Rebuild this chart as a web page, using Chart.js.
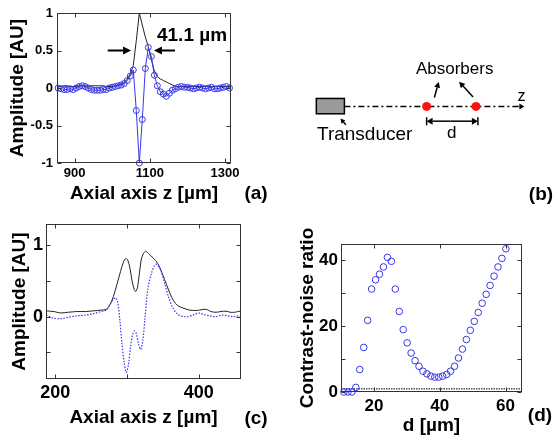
<!DOCTYPE html>
<html>
<head>
<meta charset="utf-8">
<script src="https://cdn.jsdelivr.net/npm/chart.js@4.4.1/dist/chart.umd.min.js"></script>
<style>
    html, body { margin: 0; padding: 0; background: #fff; }
    #fig { position: relative; width: 554px; height: 437px; overflow: hidden; }
    canvas { position: absolute; }
</style>
</head>
<body>
<div id="fig">
    <canvas id="chartA" width="277" height="218" style="left:0;top:0"></canvas>
    <canvas id="chartB" width="277" height="218" style="left:277px;top:0"></canvas>
    <canvas id="chartC" width="277" height="219" style="left:0;top:218px"></canvas>
    <canvas id="chartD" width="277" height="219" style="left:277px;top:218px"></canvas>
</div>
<script>
// (a) single absorber: signal (circles) and envelope (black)
const zA = [856, 864, 872, 880, 888, 896, 904, 912, 920, 928, 936, 944, 952, 960, 968,
    976, 984, 992, 1000, 1008, 1016, 1024, 1032, 1040, 1048, 1056, 1064, 1072, 1080,
    1088, 1096, 1104, 1112, 1120, 1128, 1136, 1144, 1152, 1160, 1168, 1176, 1184, 1192,
    1200, 1208, 1216, 1224, 1232, 1240, 1248, 1256, 1264, 1272, 1280, 1288, 1296, 1304, 1312];
const signalA = [0.0, -0.01, -0.02, -0.02, -0.01, -0.02, 0.0, 0.02, 0.03, 0.02, 0.0, -0.02,
    -0.03, -0.03, -0.03, -0.02, -0.02, 0.0, 0.01, 0.02, 0.03, 0.04, 0.06, 0.1, 0.16, 0.24,
    -0.30, -1.0, -0.42, 0.26, 0.54, 0.42, 0.17, 0.03, -0.05, -0.08, -0.11, -0.07, -0.03,
    -0.01, 0.01, 0.02, 0.01, 0.01, 0.0, -0.01, 0.0, 0.01, 0.0, -0.01, 0.0, 0.01, -0.01,
    -0.01, 0.0, 0.01, 0.02, 0.0];
const envelopeA = [0.02, 0.02, 0.03, 0.03, 0.02, 0.02, 0.02, 0.03, 0.03, 0.03, 0.02, 0.03,
    0.03, 0.03, 0.03, 0.03, 0.02, 0.02, 0.02, 0.03, 0.04, 0.05, 0.07, 0.12, 0.19, 0.3,
    0.63, 1.0, 0.84, 0.68, 0.55, 0.38, 0.23, 0.15, 0.12, 0.1, 0.08, 0.06, 0.04, 0.02,
    0.02, 0.02, 0.02, 0.02, 0.02, 0.02, 0.02, 0.02, 0.02, 0.02, 0.02, 0.02, 0.02, 0.02,
    0.02, 0.02, 0.02, 0.02];
const zTicksA = [900, 1100, 1300];
const ampTicksA = [-1, -0.5, 0, 0.5, 1];

// (c) two absorbers: envelope (black) and signal (blue dotted)
const zEnvC = [187, 198, 207, 218, 230, 242, 253, 264, 271, 276, 281, 286, 291, 295, 298.5,
    301, 304, 307, 310, 312, 314.5, 317, 320, 323, 326, 330, 335, 340, 345, 350, 355, 360,
    365, 371, 378, 387, 395, 401, 406, 411, 417, 424, 431, 438, 444, 450, 455, 459];
const envelopeC = [0.08, 0.07, 0.05, 0.06, 0.07, 0.07, 0.08, 0.09, 0.1, 0.16, 0.28, 0.45,
    0.63, 0.76, 0.81, 0.79, 0.68, 0.5, 0.38, 0.35, 0.4, 0.58, 0.8, 0.88, 0.91, 0.88, 0.83,
    0.78, 0.7, 0.58, 0.45, 0.32, 0.22, 0.15, 0.12, 0.09, 0.085, 0.09, 0.1, 0.1, 0.07, 0.06,
    0.07, 0.075, 0.06, 0.06, 0.07, 0.08];
const zSigC = [187, 197, 207, 218, 230, 242, 253, 264, 271, 277, 281, 284, 287, 290, 293,
    296, 299, 302, 305, 308, 310.5, 313, 316, 319, 322, 325, 329, 334, 340, 346, 352, 358,
    364, 371, 378, 385, 392, 400, 407, 415, 424, 432, 440, 448, 455, 459];
const signalC = [0.02, -0.02, -0.03, -0.01, 0.01, 0.02, 0.04, 0.07, 0.09, 0.18, 0.24, 0.26,
    0.2, -0.05, -0.38, -0.64, -0.78, -0.67, -0.42, -0.24, -0.2, -0.24, -0.38, -0.46, -0.34,
    -0.03, 0.38, 0.6, 0.73, 0.67, 0.48, 0.27, 0.12, 0.03, 0.0, 0.0, 0.02, 0.05, 0.03, 0.01,
    0.0, 0.02, 0.01, 0.0, 0.01, 0.0];
const zTicksC = [200, 300, 400];
const zLabelsC = [200, 400];
const ampTicksC = [-0.5, 0, 0.5, 1];
const ampLabelsC = [0, 1];

// (d) contrast-to-noise ratio against absorber spacing
const spacingD = [10.9, 12.1, 13.3, 14.5, 15.7, 16.9, 18.1, 19.3, 20.5, 21.7, 22.9, 24.1,
    25.3, 26.5, 27.7, 28.9, 30.1, 31.3, 32.5, 33.7, 34.9, 36.1, 37.3, 38.5, 39.7, 40.9,
    42.1, 43.3, 44.5, 45.7, 46.9, 48.1, 49.3, 50.5, 51.7, 52.9, 54.1, 55.3, 56.5, 57.7,
    58.9, 60.1];
const cnrD = [0, 0, 0, 1.4, 6.8, 13.5, 21.7, 31.2, 34, 35.7, 37.9, 40.8, 39.6, 31.2, 24.4,
    18.9, 14.9, 11.8, 9.5, 7.8, 6.3, 5.5, 4.8, 4.5, 4.5, 4.8, 5.3, 6.3, 7.8, 10.3, 13, 15.9,
    18.7, 21.4, 24.1, 26.9, 29.6, 32.3, 35.1, 37.9, 40.5, 43.4];
const cnrThreshold = 1;
const dTicksD = [20, 40, 60];
const cnrTicksD = [0, 10, 20, 30, 40];
const cnrLabelsD = [0, 20, 40];

// (b) schematic: absorber positions along the axis
const absorberZ = [150, 201];

const FONT = '"Liberation Sans", Arial, Helvetica, sans-serif';
const BLUE = 'rgb(55,55,235)';
const INK = '#222';

Chart.defaults.font.family = FONT;
Chart.defaults.color = '#000';

function fixedAxis(size, horizontal) {
    return function (scale) {
        if (horizontal) scale.height = size;
        else scale.width = size;
        scale.paddingTop = scale.paddingBottom = 0;
        scale.paddingLeft = scale.paddingRight = 0;
    };
}
function setTicks(values) {
    return function (scale) {
        scale.ticks = values.map(v => ({ value: v }));
    };
}
function showOnly(labels) {
    return v => (labels.indexOf(v) >= 0 ? String(v) : '');
}
function arrow(ctx, x0, y0, x1, y1, head, half) {
    const ang = Math.atan2(y1 - y0, x1 - x0);
    const bx = x1 - head * Math.cos(ang), by = y1 - head * Math.sin(ang);
    ctx.beginPath();
    ctx.moveTo(x0, y0);
    ctx.lineTo(bx, by);
    ctx.stroke();
    ctx.beginPath();
    ctx.moveTo(x1, y1);
    ctx.lineTo(bx + half * Math.sin(ang), by - half * Math.cos(ang));
    ctx.lineTo(bx - half * Math.sin(ang), by + half * Math.cos(ang));
    ctx.closePath();
    ctx.fill();
}
function panelLabel(text, x, y) {
    return {
        id: 'panelLabel',
        afterDraw(chart) {
            const ctx = chart.ctx;
            ctx.save();
            ctx.font = 'bold 19px ' + FONT;
            ctx.fillStyle = '#000';
            ctx.textAlign = 'center';
            ctx.textBaseline = 'middle';
            ctx.fillText(text, x, y);
            ctx.restore();
        }
    };
}

// box round the axes with inward ticks on all four sides
const matlabBox = {
    id: 'matlabBox',
    afterDraw(chart) {
        const { ctx, chartArea: a, scales } = chart;
        const L = Math.round(a.left) + 0.5, R = Math.round(a.right) - 0.5;
        const T = Math.round(a.top) + 0.5, B = Math.round(a.bottom) - 0.5;
        ctx.save();
        ctx.strokeStyle = '#333';
        ctx.lineWidth = 1;
        ctx.strokeRect(L, T, R - L, B - T);
        ctx.beginPath();
        scales.x.ticks.forEach(t => {
            const p = Math.round(scales.x.getPixelForValue(t.value)) + 0.5;
            ctx.moveTo(p, B); ctx.lineTo(p, B - 4);
            ctx.moveTo(p, T); ctx.lineTo(p, T + 4);
        });
        scales.y.ticks.forEach(t => {
            const p = Math.round(scales.y.getPixelForValue(t.value)) + 0.5;
            ctx.moveTo(L, p); ctx.lineTo(L + 4, p);
            ctx.moveTo(R, p); ctx.lineTo(R - 4, p);
        });
        ctx.stroke();
        ctx.restore();
    }
};

function axis(opts) {
    return {
        type: 'linear',
        min: opts.min,
        max: opts.max,
        grid: { display: false, drawTicks: false },
        border: { display: false },
        ticks: {
            font: { size: opts.tickSize, weight: 'bold' },
            padding: opts.tickPad,
            autoSkip: false,
            maxRotation: 0,
            callback: opts.labels ? showOnly(opts.labels) : (v => String(v))
        },
        afterBuildTicks: setTicks(opts.ticks),
        afterFit: fixedAxis(opts.size, opts.horizontal),
        title: {
            display: true,
            text: opts.title,
            font: { size: 19, weight: 'bold' },
            padding: opts.titlePad
        }
    };
}

const common = {
    responsive: false,
    animation: false,
    events: [],
    plugins: { legend: { display: false }, tooltip: { enabled: false } }
};

// (a)
const annotateA = {
    id: 'annotateA',
    afterDatasetsDraw(chart) {
        const { ctx, scales: { x, y } } = chart;
        const yy = y.getPixelForValue(0.5);
        ctx.save();
        ctx.strokeStyle = '#000';
        ctx.fillStyle = '#000';
        ctx.lineWidth = 2;
        arrow(ctx, x.getPixelForValue(988), yy, x.getPixelForValue(1050), yy, 8, 4);
        arrow(ctx, x.getPixelForValue(1167), yy, x.getPixelForValue(1111), yy, 8, 4);
        ctx.font = 'bold 19px ' + FONT;
        ctx.textAlign = 'left';
        ctx.textBaseline = 'middle';
        ctx.fillText('41.1 µm', x.getPixelForValue(1119), y.getPixelForValue(0.7));
        ctx.restore();
    }
};

new Chart(document.getElementById('chartA'), {
    type: 'line',
    data: {
        datasets: [{
            data: zA.map((z, i) => ({ x: z, y: signalA[i] })),
            borderColor: BLUE,
            borderWidth: 1,
            pointRadius: 3,
            pointBorderColor: BLUE,
            pointBackgroundColor: 'rgba(0,0,0,0)',
            pointBorderWidth: 1,
            clip: false
        }, {
            data: zA.map((z, i) => ({ x: z, y: envelopeA[i] })),
            borderColor: INK,
            borderWidth: 1,
            pointRadius: 0
        }]
    },
    options: Object.assign({}, common, {
        layout: { padding: { left: 0, top: 13, right: 46, bottom: 5 } },
        scales: {
            x: axis({ min: 853, max: 1316, ticks: zTicksA, tickSize: 13, tickPad: 2.5,
                size: 50, horizontal: true, title: 'Axial axis z [µm]',
                titlePad: { top: 0, bottom: 7.6 } }),
            y: axis({ min: -1, max: 1, ticks: ampTicksA, tickSize: 13, tickPad: 4,
                size: 57, horizontal: false, title: 'Amplitude [AU]',
                titlePad: { top: 6, bottom: 0 } })
        }
    }),
    plugins: [annotateA, matlabBox, panelLabel('(a)', 256, 194)]
});

// (b) schematic
const sketchB = {
    id: 'sketchB',
    afterDatasetsDraw(chart) {
        const { ctx, scales: { x, y } } = chart;
        const px = v => x.getPixelForValue(v), py = v => y.getPixelForValue(v);
        ctx.save();
        // transducer
        ctx.fillStyle = '#9a9a9a';
        ctx.strokeStyle = '#000';
        ctx.lineWidth = 1.5;
        ctx.fillRect(px(36), py(98), px(65) - px(36), py(114) - py(98));
        ctx.strokeRect(px(36), py(98), px(65) - px(36), py(114) - py(98));
        ctx.fillStyle = '#000';
        // axis arrowhead
        ctx.lineWidth = 1.5;
        arrow(ctx, px(245), py(106.3), px(251), py(106.3), 5, 3);
        // pointers
        arrow(ctx, px(66.5), py(125.5), px(61), py(119), 4.5, 2.5);
        arrow(ctx, px(158), py(97), px(162.5), py(80.5), 6, 3);
        arrow(ctx, px(198), py(96.5), px(183.5), py(80.5), 6, 3);
        // spacing d
        const dy = py(121.7);
        arrow(ctx, px(175), dy, px(absorberZ[0]), dy, 6, 3.5);
        arrow(ctx, px(175), dy, px(absorberZ[1] + 2), dy, 6, 3.5);
        ctx.beginPath();
        ctx.moveTo(px(absorberZ[0]), dy - 4); ctx.lineTo(px(absorberZ[0]), dy + 4);
        ctx.moveTo(px(absorberZ[1] + 2), dy - 4); ctx.lineTo(px(absorberZ[1] + 2), dy + 4);
        ctx.stroke();
        // text
        ctx.textAlign = 'center';
        ctx.textBaseline = 'middle';
        ctx.font = '17px ' + FONT;
        ctx.fillText('Absorbers', px(179), py(67.5));
        ctx.fillText('d', px(176), py(134));
        ctx.font = '19px ' + FONT;
        ctx.fillText('Transducer', px(86), py(136));
        ctx.font = '16px ' + FONT;
        ctx.fillText('z', px(248), py(96));
        ctx.restore();
    }
};

new Chart(document.getElementById('chartB'), {
    type: 'scatter',
    data: {
        datasets: [{
            data: absorberZ.map(z => ({ x: z, y: 106.3 })),
            pointRadius: 4.5,
            pointBackgroundColor: '#ff1010',
            pointBorderWidth: 0
        }, {
            type: 'line',
            data: [{ x: 65, y: 106.3 }, { x: 246, y: 106.3 }],
            borderColor: '#000',
            borderWidth: 1.5,
            borderDash: [6, 3, 2, 3],
            pointRadius: 0
        }]
    },
    options: Object.assign({}, common, {
        layout: { padding: 0 },
        scales: {
            x: { type: 'linear', display: false, min: 0, max: 277 },
            y: { type: 'linear', display: false, min: 0, max: 218, reverse: true }
        }
    }),
    plugins: [sketchB, panelLabel('(b)', 264, 195)]
});

// (c)
new Chart(document.getElementById('chartC'), {
    type: 'line',
    data: {
        datasets: [{
            data: zSigC.map((z, i) => ({ x: z, y: signalC[i] })),
            borderColor: BLUE,
            borderWidth: 1.2,
            borderDash: [1.5, 1.5],
            pointRadius: 0,
            tension: 0.3
        }, {
            data: zEnvC.map((z, i) => ({ x: z, y: envelopeC[i] })),
            borderColor: INK,
            borderWidth: 1,
            pointRadius: 0,
            tension: 0.3
        }]
    },
    options: Object.assign({}, common, {
        layout: { padding: { left: 0, top: 6, right: 36, bottom: 6 } },
        scales: {
            x: axis({ min: 187, max: 459, ticks: zTicksC, labels: zLabelsC, tickSize: 18,
                tickPad: 3.2, size: 52, horizontal: true, title: 'Axial axis z [µm]',
                titlePad: { top: 0, bottom: 1.6 } }),
            y: axis({ min: -0.87, max: 1.29, ticks: ampTicksC, labels: ampLabelsC, tickSize: 18,
                tickPad: 3, size: 46, horizontal: false, title: 'Amplitude [AU]',
                titlePad: { top: 8.6, bottom: 0 } })
        }
    }),
    plugins: [matlabBox, panelLabel('(c)', 256, 201)]
});

// (d)
new Chart(document.getElementById('chartD'), {
    type: 'scatter',
    data: {
        datasets: [{
            data: spacingD.map((d, i) => ({ x: d, y: cnrD[i] })),
            pointRadius: 3.3,
            pointBorderColor: BLUE,
            pointBackgroundColor: 'rgba(0,0,0,0)',
            pointBorderWidth: 1,
            clip: false
        }, {
            type: 'line',
            data: [{ x: 10, y: cnrThreshold }, { x: 65, y: cnrThreshold }],
            borderColor: '#555',
            borderWidth: 1.5,
            borderDash: [1.5, 1],
            pointRadius: 0
        }]
    },
    options: Object.assign({}, common, {
        layout: { padding: { left: 0, top: 26, right: 32, bottom: 0 } },
        scales: {
            x: axis({ min: 10, max: 65, ticks: dTicksD, tickSize: 17, tickPad: 4.5,
                size: 45, horizontal: true, title: 'd [µm]',
                titlePad: { top: 0, bottom: 0 } }),
            y: axis({ min: 0, max: 44.85, ticks: cnrTicksD, labels: cnrLabelsD, tickSize: 17,
                tickPad: 3, size: 64, horizontal: false, title: 'Contrast-noise ratio',
                titlePad: { top: 19.6, bottom: 0 } })
        }
    }),
    plugins: [matlabBox, panelLabel('(d)', 263, 198)]
});
</script>
</body>
</html>
